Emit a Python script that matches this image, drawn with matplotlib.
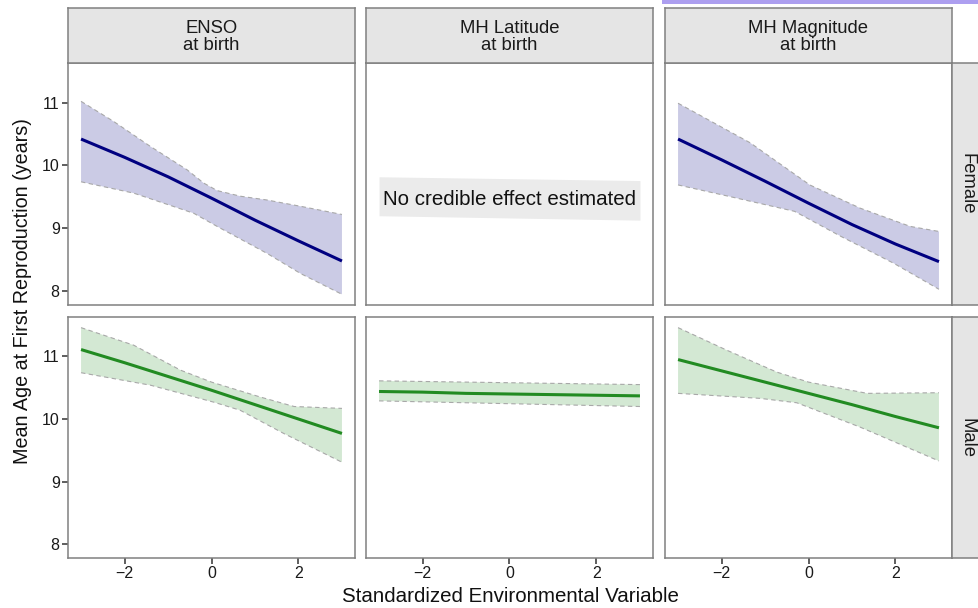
import numpy as np
import matplotlib.pyplot as plt
from matplotlib.patches import Rectangle

plt.rcParams['font.family'] = ['Liberation Sans', 'DejaVu Sans']

# facet labels
cols = ['ENSO\nat birth', 'MH Latitude\nat birth', 'MH Magnitude\nat birth']
rows = ['Female', 'Male']
note = 'No credible effect estimated'

grid = [-3, -2, -1, 0, 1, 2, 3]

# Female, ENSO
f_enso_mean = [10.42, 10.13, 9.82, 9.48, 9.13, 8.80, 8.48]
f_enso_up_x = [-3, -2.25, -1.4, -0.56, -0.18, 0.13, 0.67, 1.28, 2.05, 3]
f_enso_up = [11.02, 10.70, 10.30, 9.93, 9.72, 9.60, 9.51, 9.45, 9.35, 9.22]
f_enso_lo_x = [-3, -1.79, -0.41, 0.13, 1.28, 2.05, 3]
f_enso_lo = [9.74, 9.56, 9.24, 9.03, 8.60, 8.28, 7.95]

# Female, MH Magnitude
f_mag_mean = [10.42, 10.09, 9.75, 9.40, 9.06, 8.75, 8.47]
f_mag_up_x = [-3, -1.34, 0.03, 1.19, 2.34, 3]
f_mag_up = [10.99, 10.36, 9.69, 9.32, 9.03, 8.95]
f_mag_lo_x = [-3, -1.84, -0.32, 0.75, 1.97, 3]
f_mag_lo = [9.69, 9.51, 9.27, 8.87, 8.44, 8.03]

# Male, ENSO
m_enso_mean = [11.11, 10.90, 10.68, 10.46, 10.23, 10.00, 9.77]
m_enso_up_x = [-3, -1.79, -0.71, 0, 1.13, 1.9, 3]
m_enso_up = [11.46, 11.18, 10.78, 10.59, 10.35, 10.20, 10.17]
m_enso_lo_x = [-3, -1.4, 0.05, 0.66, 1.66, 3]
m_enso_lo = [10.74, 10.54, 10.27, 10.14, 9.77, 9.31]

# Male, MH Latitude
m_lat_mean = [10.44, 10.43, 10.41, 10.40, 10.39, 10.38, 10.37]
m_lat_up_x = [-3, 3]
m_lat_up = [10.61, 10.55]
m_lat_lo_x = [-3, 3]
m_lat_lo = [10.29, 10.20]

# Male, MH Magnitude
m_mag_mean = [10.95, 10.77, 10.59, 10.41, 10.23, 10.04, 9.86]
m_mag_up_x = [-3, -1.88, -0.73, 0, 1.35, 3]
m_mag_up = [11.46, 11.10, 10.75, 10.59, 10.41, 10.42]
m_mag_lo_x = [-3, -1.11, -0.27, 1.19, 3]
m_mag_lo = [10.41, 10.33, 10.26, 9.87, 9.33]

# grey box behind the note (slightly slanted)
note_x = [-3, 3]
note_top = [9.82, 9.76]
note_bot = [9.20, 9.13]

W, H = 979, 608
fig = plt.figure(figsize=(W / 100, H / 100), dpi=100)

col_x = [68, 366, 665]
pw = 287
row_y = [63, 317]
ph = [242, 241]
border = '#808080'


def box(x0, y0, w, h):
    return [x0 / W, 1 - (y0 + h) / H, w / W, h / H]


def ribbon(ax, mean, ux, uy, lx, ly, col, fill):
    px = list(ux) + list(lx)[::-1]
    py = list(uy) + list(ly)[::-1]
    ax.fill(px, py, color=fill, lw=0)
    ax.plot(ux, uy, color='#a8a8a8', lw=0.8, ls=(0, (4, 3)))
    ax.plot(lx, ly, color='#a8a8a8', lw=0.8, ls=(0, (4, 3)))
    ax.plot(grid, mean, color=col, lw=2.2, solid_capstyle='butt', solid_joinstyle='round')


panels = {
    (0, 0): (f_enso_mean, f_enso_up_x, f_enso_up, f_enso_lo_x, f_enso_lo, 'navy', '#cbcbe5'),
    (0, 2): (f_mag_mean, f_mag_up_x, f_mag_up, f_mag_lo_x, f_mag_lo, 'navy', '#cbcbe5'),
    (1, 0): (m_enso_mean, m_enso_up_x, m_enso_up, m_enso_lo_x, m_enso_lo, 'forestgreen', '#d3e8d3'),
    (1, 1): (m_lat_mean, m_lat_up_x, m_lat_up, m_lat_lo_x, m_lat_lo, 'forestgreen', '#d3e8d3'),
    (1, 2): (m_mag_mean, m_mag_up_x, m_mag_up, m_mag_lo_x, m_mag_lo, 'forestgreen', '#d3e8d3'),
}

for r in range(2):
    for c in range(3):
        ax = fig.add_axes(box(col_x[c], row_y[r], pw, ph[r]))
        if (r, c) in panels:
            ribbon(ax, *panels[(r, c)])
        if (r, c) == (0, 1):
            ax.fill_between(note_x, note_bot, note_top, color='#ebebeb', lw=0)
            ax.text(0, 9.46, note, ha='center', va='center', fontsize=14.8, color='#111111')
        ax.set_xlim(-3.3, 3.3)
        ax.set_ylim(7.78, 11.63)
        ax.set_xticks([-2, 0, 2])
        ax.set_yticks([8, 9, 10, 11])
        ax.tick_params(length=4, width=1.1, color='#333333', labelsize=11.5,
                       labelcolor='#1a1a1a', pad=2)
        if c > 0:
            ax.tick_params(axis='y', left=False, labelleft=False)
        if r == 0:
            ax.tick_params(axis='x', bottom=False, labelbottom=False)
        else:
            ax.set_xticklabels(['\u22122', '0', '2'])
        for s in ax.spines.values():
            s.set_color(border)
            s.set_linewidth(1.1)

# column strips
for c in range(3):
    sa = fig.add_axes(box(col_x[c], 8, pw, 55))
    sa.set_facecolor('#e5e5e5')
    sa.set_xticks([])
    sa.set_yticks([])
    for s in sa.spines.values():
        s.set_color(border)
        s.set_linewidth(1.1)
    sa.text(0.5, 0.47, cols[c], ha='center', va='center', fontsize=13.3, color='#1a1a1a',
            linespacing=1.05, transform=sa.transAxes)

# row strips
for r in range(2):
    sa = fig.add_axes(box(952, row_y[r], 31, ph[r]))
    sa.set_facecolor('#e5e5e5')
    sa.set_xticks([])
    sa.set_yticks([])
    for s in sa.spines.values():
        s.set_color(border)
        s.set_linewidth(1.1)
    sa.text(0.5, 0.5, rows[r], ha='center', va='center', rotation=-90, fontsize=13.3,
            color='#1a1a1a', transform=sa.transAxes)

fig.text(23 / W, 1 - 291 / H, 'Mean Age at First Reproduction (years)', rotation=90,
         ha='center', va='center', fontsize=14.2, color='#111111')
fig.text(510 / W, 1 - 597 / H, 'Standardized Environmental Variable',
         ha='center', va='center', fontsize=14.8, color='#111111')

# thin purple bar along the top edge
fig.patches.append(Rectangle((662 / W, 1 - 4 / H), (W - 662) / W, 4 / H,
                             transform=fig.transFigure, color='#ad9ff0', lw=0))

fig.savefig('out.png', dpi=100)
